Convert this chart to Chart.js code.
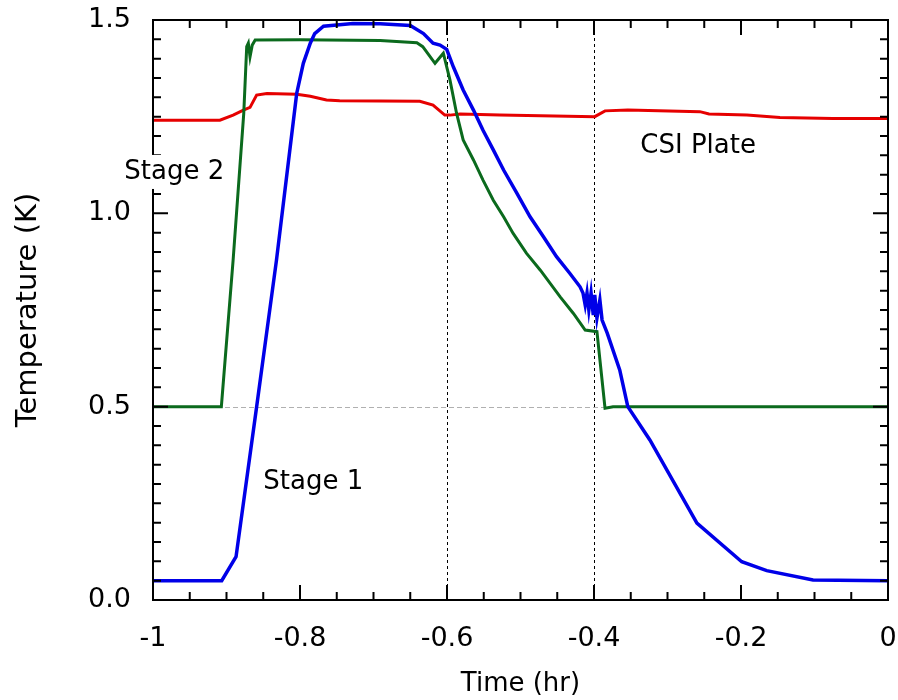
<!DOCTYPE html>
<html>
<head>
<meta charset="utf-8">
<script src="https://cdn.jsdelivr.net/npm/chart.js@4.4.0/dist/chart.umd.min.js"></script>
<style>
  html, body { margin: 0; padding: 0; background: #fff; }
  #wrap { width: 898px; height: 700px; }
</style>
</head>
<body>
<div id="wrap"><canvas id="tempChart" width="898" height="700"></canvas></div>
<script>
// ---- data ----
const stage1Time = [-1, -0.9065, -0.887, -0.859, -0.832, -0.8045, -0.7955, -0.786, -0.78, -0.768, -0.728, -0.691, -0.65,
  -0.632, -0.619, -0.6095, -0.6004, -0.5914, -0.578, -0.564, -0.551, -0.537, -0.523, -0.505, -0.487, -0.469, -0.451,
  -0.433, -0.419, -0.415, -0.412, -0.4095, -0.407, -0.404, -0.401, -0.399, -0.396, -0.392, -0.389, -0.382, -0.365,
  -0.354, -0.324, -0.26, -0.199, -0.165, -0.102, 0];
const stage1Temp = [0.05, 0.05, 0.112, 0.5, 0.879, 1.31, 1.388, 1.44, 1.465, 1.484, 1.491, 1.49, 1.486,
  1.465, 1.44, 1.435, 1.424, 1.379, 1.319, 1.267, 1.215, 1.164, 1.112, 1.052, 0.991, 0.94, 0.888,
  0.845, 0.81, 0.794, 0.763, 0.794, 0.75, 0.794, 0.737, 0.789, 0.729, 0.776, 0.724, 0.69, 0.595,
  0.5, 0.414, 0.199, 0.099, 0.076, 0.052, 0.05];

const stage2Time = [-1, -0.907, -0.891, -0.8765, -0.8725, -0.8703, -0.868, -0.865, -0.861, -0.8, -0.691, -0.641,
  -0.633, -0.6163, -0.605, -0.596, -0.587, -0.578, -0.564, -0.551, -0.537, -0.523, -0.51, -0.492, -0.473,
  -0.446, -0.428, -0.412, -0.396, -0.385, -0.374, 0];
const stage2Temp = [0.5, 0.5, 0.879, 1.259, 1.431, 1.44, 1.405, 1.435, 1.448, 1.449, 1.447, 1.441,
  1.431, 1.388, 1.414, 1.345, 1.259, 1.19, 1.138, 1.086, 1.034, 0.991, 0.948, 0.897, 0.853,
  0.784, 0.741, 0.698, 0.694, 0.496, 0.5, 0.5];

const plateTime = [-1, -0.909, -0.891, -0.877, -0.868, -0.859, -0.845, -0.8045, -0.786, -0.764, -0.746, -0.637,
  -0.619, -0.603, -0.596, -0.582, -0.528, -0.399, -0.385, -0.354, -0.256, -0.2435, -0.192, -0.147, -0.075, 0];
const plateTemp = [1.241, 1.241, 1.254, 1.267, 1.274, 1.306, 1.31, 1.308, 1.303, 1.293, 1.291, 1.29,
  1.28, 1.254, 1.254, 1.257, 1.254, 1.25, 1.265, 1.267, 1.263, 1.257, 1.254, 1.248, 1.245, 1.245];

const xTickLabels = [-1, -0.8, -0.6, -0.4, -0.2, 0];
const yTickLabels = [0, 0.5, 1.0, 1.5];
const refTimes = [-0.6, -0.4];
const refTemps = [0.5];

const seriesNames = ["Stage 1", "Stage 2", "CSI Plate"];
const seriesColors = ["#0000e8", "#0b6a1d", "#e60000"];
const seriesWidths = [3.5, 3, 3];
const curveLabels = [
  { text: "Stage 2", x: -1.039, y: 1.107 },
  { text: "Stage 1", x: -0.85, y: 0.305 },
  { text: "CSI Plate", x: -0.337, y: 1.174 }
];

const FONT = "DejaVu Sans";

function toPoints(xs, ys) {
  return xs.map((x, i) => ({ x: x, y: ys[i] }));
}
function isLabelled(v, list) {
  return list.some(l => Math.abs(l - v) < 1e-6);
}

// frame, inward ticks (all four sides), reference lines, curve labels
const framePlugin = {
  id: "frame",
  beforeDatasetsDraw(chart) {
    const { ctx, chartArea: a, scales } = chart;
    ctx.save();
    ctx.lineWidth = 1;
    ctx.strokeStyle = "#000";
    ctx.setLineDash([3, 3]);
    refTimes.forEach(t => {
      const px = Math.round(scales.x.getPixelForValue(t)) + 0.5;
      ctx.beginPath();
      ctx.moveTo(px, a.top);
      ctx.lineTo(px, a.bottom);
      ctx.stroke();
    });
    ctx.strokeStyle = "#b0b0b0";
    ctx.setLineDash([5, 3]);
    refTemps.forEach(v => {
      const py = Math.round(scales.y.getPixelForValue(v)) + 0.5;
      ctx.beginPath();
      ctx.moveTo(a.left, py);
      ctx.lineTo(a.right, py);
      ctx.stroke();
    });
    ctx.restore();
  },
  afterDatasetsDraw(chart) {
    const { ctx, chartArea: a, scales } = chart;
    ctx.save();
    ctx.strokeStyle = "#000";
    ctx.lineWidth = 2;
    ctx.strokeRect(a.left, a.top, a.right - a.left, a.bottom - a.top);
    ctx.beginPath();
    scales.x.ticks.forEach(t => {
      const px = scales.x.getPixelForValue(t.value);
      const len = isLabelled(t.value, xTickLabels) ? 15 : 8;
      ctx.moveTo(px, a.bottom); ctx.lineTo(px, a.bottom - len);
      ctx.moveTo(px, a.top); ctx.lineTo(px, a.top + len);
    });
    scales.y.ticks.forEach(t => {
      const py = scales.y.getPixelForValue(t.value);
      const len = isLabelled(t.value, yTickLabels) ? 15 : 8;
      ctx.moveTo(a.left, py); ctx.lineTo(a.left + len, py);
      ctx.moveTo(a.right, py); ctx.lineTo(a.right - len, py);
    });
    ctx.stroke();
    ctx.restore();
  },
  afterDraw(chart) {
    const { ctx, scales } = chart;
    ctx.save();
    ctx.font = "26px '" + FONT + "'";
    ctx.textBaseline = "middle";
    ctx.textAlign = "left";
    curveLabels.forEach(l => {
      const px = scales.x.getPixelForValue(l.x);
      const py = scales.y.getPixelForValue(l.y);
      const w = ctx.measureText(l.text).width;
      ctx.fillStyle = "#fff";
      ctx.fillRect(px - 3, py - 17, w + 6, 34);
      ctx.fillStyle = "#000";
      ctx.fillText(l.text, px, py);
    });
    ctx.restore();
  }
};

const datasets = [
  toPoints(stage1Time, stage1Temp),
  toPoints(stage2Time, stage2Temp),
  toPoints(plateTime, plateTemp)
].map((pts, i) => ({
  label: seriesNames[i],
  data: pts,
  borderColor: seriesColors[i],
  backgroundColor: seriesColors[i],
  borderWidth: seriesWidths[i],
  pointRadius: 0,
  tension: 0,
  fill: false
}));

new Chart(document.getElementById("tempChart"), {
  type: "line",
  data: { datasets: datasets },
  options: {
    responsive: false,
    maintainAspectRatio: false,
    animation: false,
    layout: { padding: { left: 0, right: 10, top: 20, bottom: 0 } },
    plugins: {
      legend: { display: false },
      tooltip: { enabled: false }
    },
    scales: {
      x: {
        type: "linear",
        min: -1,
        max: 0,
        afterFit: s => { s.height = 100; s.paddingLeft = 0; s.paddingRight = 0; },
        border: { display: false },
        grid: { display: false, drawTicks: false },
        ticks: {
          stepSize: 0.05,
          autoSkip: false,
          maxRotation: 0,
          padding: 23,
          color: "#000",
          font: { family: FONT, size: 27 },
          callback: v => isLabelled(v, xTickLabels) ? String(Math.round(v * 10) / 10) : ""
        },
        title: {
          display: true,
          text: "Time (hr)",
          color: "#000",
          font: { family: FONT, size: 26 },
          padding: { top: 0, bottom: 0 }
        }
      },
      y: {
        type: "linear",
        min: 0,
        max: 1.5,
        afterFit: s => { s.width = 153; s.paddingTop = 0; s.paddingBottom = 0; },
        border: { display: false },
        grid: { display: false, drawTicks: false },
        ticks: {
          stepSize: 0.05,
          autoSkip: false,
          padding: 22,
          color: "#000",
          font: { family: FONT, size: 27 },
          callback: v => isLabelled(v, yTickLabels) ? v.toFixed(1) : ""
        },
        title: {
          display: true,
          text: "Temperature (K)",
          color: "#000",
          font: { family: FONT, size: 29 },
          padding: { top: 11, bottom: 0 }
        }
      }
    }
  },
  plugins: [framePlugin]
});
</script>
</body>
</html>
